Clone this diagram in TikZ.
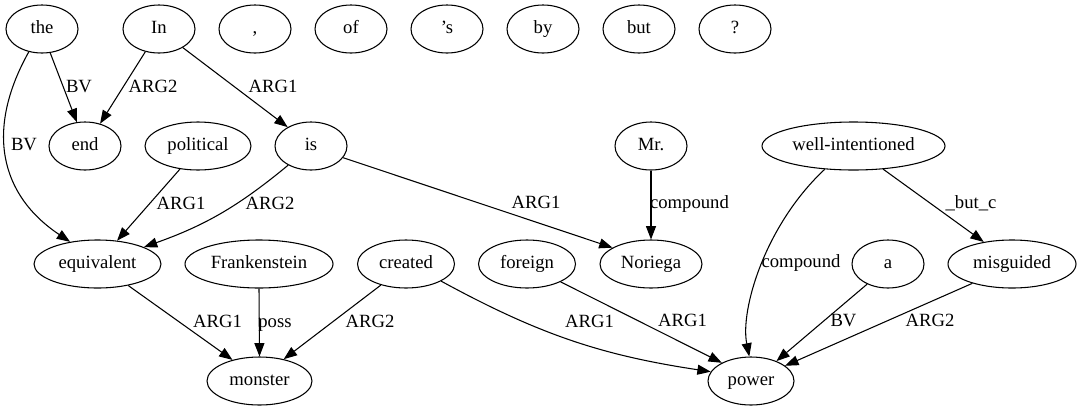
\documentclass[tikz,border=0pt]{standalone}
\usepackage{fontspec}
\setmainfont{Liberation Serif}
\usetikzlibrary{arrows.meta,shapes.geometric}
\begin{document}
\begin{tikzpicture}[x=0.75pt,y=-0.75pt,
  font=\fontsize{14}{16}\selectfont,
  gv/.style={draw, ellipse, line width=0.8pt, inner sep=0pt, minimum height=36pt, minimum width=54pt, text height=10pt, text depth=3pt},
  edge/.style={draw, line width=0.8pt, -{Triangle[length=10pt,width=7.5pt]}},
  lbl/.style={inner sep=0pt, text height=10pt, text depth=3pt}]
\useasboundingbox (0,0) rectangle (1082,411);
% row 1
\node[gv] (the) at (42,29) {the};
\node[gv] (In) at (159,29) {In};
\node[gv] (comma) at (255,29) {,};
\node[gv] (of) at (351,29) {of};
\node[gv] (s) at (447,29) {’s};
\node[gv] (by) at (543,29) {by};
\node[gv] (but) at (639,29) {but};
\node[gv] (q) at (735,29) {?};
% row 2
\node[gv] (end) at (85,146) {end};
\node[gv, minimum width=79.5pt] (political) at (198,146) {political};
\node[gv] (is) at (311,146) {is};
\node[gv] (Mr) at (651,146) {Mr.};
\node[gv, minimum width=137.25pt] (well) at (853.5,146) {well-intentioned};
% row 3
\node[gv, minimum width=95.25pt] (equiv) at (97.5,264) {equivalent};
\node[gv, minimum width=111pt] (Frank) at (259,264) {Frankenstein};
\node[gv, minimum width=72.75pt] (created) at (406,264) {created};
\node[gv, minimum width=72.75pt] (foreign) at (527,264) {foreign};
\node[gv, minimum width=76.5pt] (Noriega) at (651,264) {Noriega};
\node[gv] (a) at (888,264) {a};
\node[gv, minimum width=96pt] (misguided) at (1012,264) {misguided};
% row 4
\node[gv, minimum width=78.75pt] (monster) at (259.5,381) {monster};
\node[gv, minimum width=64.5pt] (power) at (751,381) {power};
% edges
\draw[edge] (the.-71.6) -- (end.109);
\draw[edge] (In.-121.3) -- (end.56.9);
\draw[edge] (In.-38.4) -- (is.141.6);
\draw[edge] (the.-120.3) .. controls (-15,130) and (0,195) .. (equiv.141.3);
\draw[edge] (political.-128.4) -- (equiv.50.9);
\draw[edge] (is.-140.2) to[bend left=10] (equiv.20.5);
\draw[edge] (is.-20.6) -- (Noriega.157.7);
\draw[edge] (Mr.south) -- (Noriega.north);
\draw[edge] (well.-141.8) .. controls (765,225) and (740,310) .. (power.94.8);
\draw[edge] (well.-38.2) -- (misguided.142);
\draw[edge] (a.-136.4) -- (power.38.4);
\draw[edge] (misguided.-154) -- (power.24);
\draw[edge] (equiv.-35.4) -- (monster.142.6);
\draw[edge] (Frank.south) -- (monster.north);
\draw[edge] (created.-140) -- (monster.42);
\draw[edge] (created.-26.6) to[bend right=10] (power.167);
\draw[edge] (foreign.-28.6) -- (power.148.5);
% labels
\node[lbl] (l1) at (79,88) {BV};
\node[lbl] (l2) at (153,88) {ARG2};
\node[lbl] (l3) at (273,88) {ARG1};
\node[lbl] (l4) at (24,146) {BV};
\node[lbl] (l5) at (181,205) {ARG1};
\node[lbl] (l6) at (270,205) {ARG2};
\node[lbl] (l7) at (536,204) {ARG1};
\node[lbl] (l8) at (689.5,204) {compound};
\node[lbl] (l9) at (971,204) {\_but\_c};
\node[lbl] (l10) at (801,263) {compound};
\node[lbl] (l11) at (843.5,322) {BV};
\node[lbl] (l12) at (930,322) {ARG2};
\node[lbl] (l13) at (682.5,322) {ARG1};
\node[lbl] (l14) at (589.5,323) {ARG1};
\node[lbl] (l15) at (370,323) {ARG2};
\node[lbl] (l16) at (217.5,323) {ARG1};
\node[lbl] (l17) at (275,323) {poss};
\end{tikzpicture}
\end{document}
